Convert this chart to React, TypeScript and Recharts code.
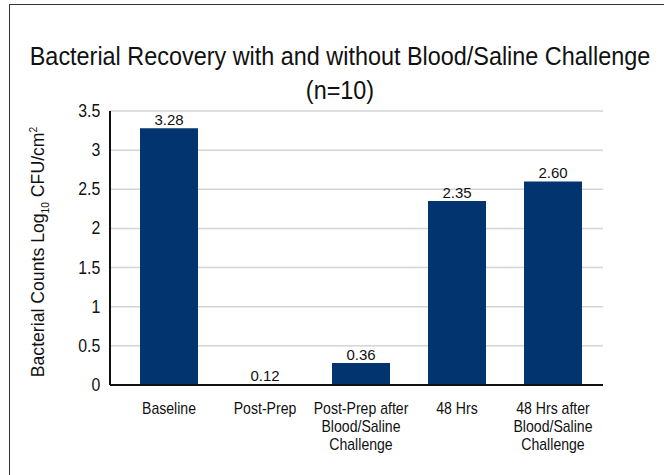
import React from 'react';
import {
    BarChart,
    Bar,
    Cell,
    XAxis,
    YAxis,
    CartesianGrid,
    LabelList,
    Label
} from 'recharts';

const categories = [
    'Baseline',
    'Post-Prep',
    'Post-Prep after\nBlood/Saline\nChallenge',
    '48 Hrs',
    '48 Hrs after\nBlood/Saline\nChallenge'
];
// bar heights as drawn in the figure (Post-Prep has no visible bar)
const barHeights = [3.28, 0, 0.28, 2.35, 2.6];
// printed labels above the bars
const valueLabels = ['3.28', '0.12', '0.36', '2.35', '2.60'];
const yTicks = [0, 0.5, 1, 1.5, 2, 2.5, 3, 3.5];

const FONT = '"Liberation Sans", Arial, sans-serif';
const BAR_COLOR = '#02346f';
const NARROW = 0.88;

const data = categories.map((name, i) => ({
    name,
    value: barHeights[i],
    label: valueLabels[i]
}));

const CategoryTick = ({ x, y, payload }: any) => {
    const lines = String(payload.value).split('\n');
    return (
        <g transform={`translate(${x},${y}) scale(${NARROW},1)`}>
            <text x={0} y={0} textAnchor="middle" fill="#111" fontSize={16} fontFamily={FONT}>
                {lines.map((line, i) => (
                    <tspan key={i} x={0} dy={i === 0 ? 21 : 18}>{line}</tspan>
                ))}
            </text>
        </g>
    );
};

const ValueTick = ({ x, y, payload }: any) => (
    <g transform={`translate(${x},${y}) scale(${NARROW},1)`}>
        <text x={-2} y={6} textAnchor="end" fill="#111" fontSize={18} fontFamily={FONT}>
            {payload.value}
        </text>
    </g>
);

const YTitle = ({ viewBox }: any) => {
    const cx = viewBox.x + 44;
    const cy = viewBox.y + viewBox.height / 2 + 4;
    return (
        <g transform={`translate(${cx},${cy}) rotate(-90) scale(0.93,1)`}>
            <text x={0} y={0} textAnchor="middle" fill="#111" fontSize={19} fontFamily={FONT}>
                Bacterial Counts Log<tspan fontSize={11} dy={5}>10</tspan>
                <tspan dy={-5}> CFU/cm</tspan>
                <tspan fontSize={11} dy={-7}>2</tspan>
            </text>
        </g>
    );
};

const App: React.FC = () => {
    return (
        <div style={{
            position: 'absolute',
            left: 0,
            top: 0,
            width: 664,
            height: 475,
            overflow: 'hidden',
            background: '#fff',
            fontFamily: FONT
        }}>
            {/* frame runs off the right / bottom edge in the original */}
            <div style={{
                position: 'absolute',
                left: 9,
                top: 4,
                width: 700,
                height: 520,
                border: '1.5px solid #333'
            }} />
            <div style={{
                position: 'absolute',
                left: -110,
                top: 39,
                width: 900,
                textAlign: 'center',
                whiteSpace: 'nowrap',
                fontSize: 26,
                color: '#111',
                lineHeight: '34px',
                transform: 'scaleX(0.9)',
                transformOrigin: '450px 0'
            }}>
                Bacterial Recovery with and without Blood/Saline Challenge
                <br />
                (n=10)
            </div>
            <div style={{ position: 'absolute', left: 0, top: 0 }}>
                <BarChart
                    width={664}
                    height={475}
                    data={data}
                    margin={{ top: 111, right: 61, left: 0, bottom: 30 }}
                >
                    <CartesianGrid vertical={false} stroke="#d4d4d4" strokeWidth={1.5} />
                    <XAxis
                        dataKey="name"
                        interval={0}
                        height={60}
                        padding={{ left: 11, right: 2 }}
                        tickLine={false}
                        axisLine={{ stroke: '#111', strokeWidth: 2 }}
                        tick={<CategoryTick />}
                    />
                    <YAxis
                        width={110}
                        domain={[0, 3.5]}
                        ticks={yTicks}
                        interval={0}
                        tickLine={false}
                        axisLine={{ stroke: '#111', strokeWidth: 2 }}
                        tick={<ValueTick />}
                    >
                        <Label content={<YTitle />} />
                    </YAxis>
                    <Bar
                        dataKey="value"
                        fill={BAR_COLOR}
                        barSize={58}
                        minPointSize={1}
                        isAnimationActive={false}
                    >
                        {data.map((d, i) => (
                            <Cell key={i} fill={d.value > 0 ? BAR_COLOR : 'none'} />
                        ))}
                        <LabelList
                            dataKey="label"
                            position="top"
                            offset={3}
                            fill="#111"
                            fontSize={15}
                            fontFamily={FONT}
                        />
                    </Bar>
                </BarChart>
            </div>
        </div>
    );
};

export default App;
